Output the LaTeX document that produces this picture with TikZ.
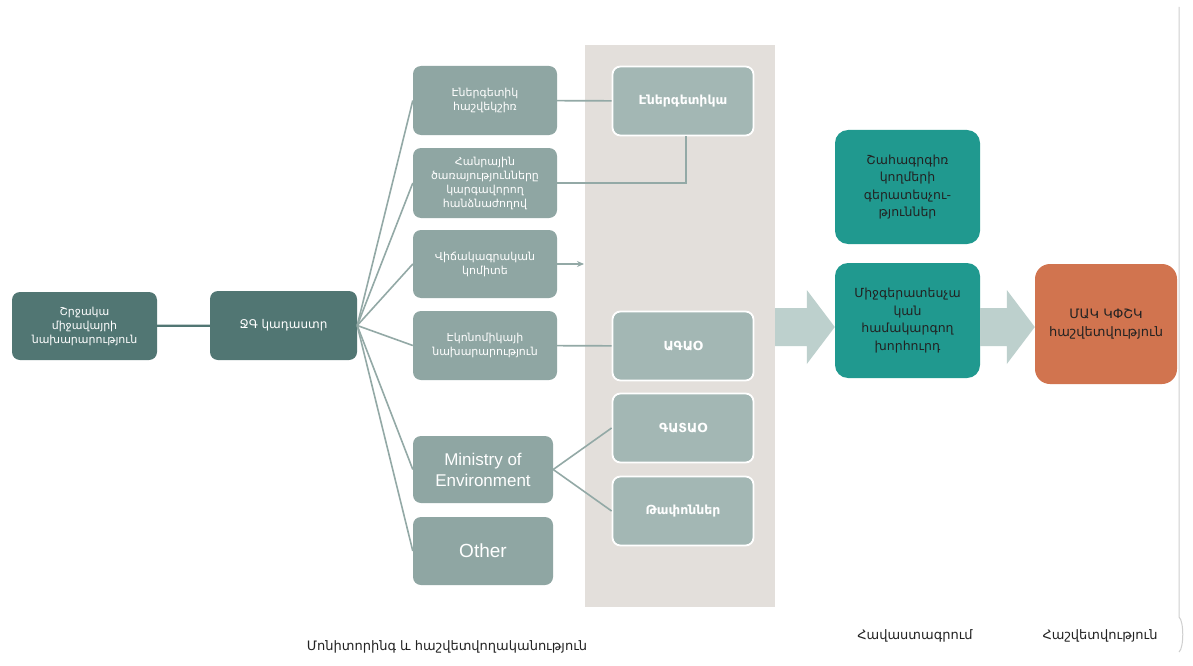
\documentclass[tikz,border=0pt]{standalone}
\usepackage{fontspec}
\setmainfont{DejaVu Sans}
\newfontfamily\latinfont{Liberation Sans}
\usetikzlibrary{calc,arrows.meta}

\definecolor{darkc}{HTML}{517673}
\definecolor{midc}{HTML}{8FA6A3}
\definecolor{lightc}{HTML}{A3B7B4}
\definecolor{panelc}{HTML}{E3DFDB}
\definecolor{flowc}{HTML}{BDD0CD}
\definecolor{tealc}{HTML}{20998F}
\definecolor{orangec}{HTML}{D1744F}
\definecolor{linec}{HTML}{93A9A6}
\definecolor{framec}{HTML}{CFCFCF}
\definecolor{textc}{HTML}{222222}

\tikzset{
  box/.style={rounded corners=8pt, align=center, inner sep=2pt, text=white},
  darkbox/.style={box, fill=darkc, font=\fontsize{11}{14}\selectfont},
  midbox/.style={box, fill=midc, minimum width=144pt, minimum height=69pt, font=\fontsize{11}{14}\selectfont},
  latinbox/.style={box, fill=midc, minimum width=140pt, minimum height=67pt, font=\latinfont\fontsize{17}{21}\selectfont},
  sectorbox/.style={box, fill=lightc, draw=white, line width=1.8pt, minimum width=141pt, minimum height=69pt, font=\bfseries\fontsize{12.5}{15}\selectfont},
  govbox/.style={rounded corners=13pt, align=center, inner sep=2pt, text=textc, font=\fontsize{12.5}{17.5}\selectfont},
  link/.style={draw=linec, line width=1.6pt},
  caption/.style={text=textc, font=\fontsize{13}{15}\selectfont, inner sep=0pt},
}

% block arrow between two points on the same horizontal line
\newcommand{\flowarrow}[2]{%
  \path let \p1=(#1), \p2=(#2) in
    [fill=flowc] (\x1,\y1+19pt) -- (\x2-28pt,\y1+19pt) -- (\x2-28pt,\y1+37pt)
    -- (\x2,\y1) -- (\x2-28pt,\y1-37pt) -- (\x2-28pt,\y1-19pt) -- (\x1,\y1-19pt) -- cycle;}

\begin{document}
\begin{tikzpicture}[x=1pt,y=-1pt]
\useasboundingbox (0,0) rectangle (1193,666);
\fill[white] (0,0) rectangle (1193,666);

% grey band holding the sector inventories
\node[fill=panelc, minimum width=190pt, minimum height=562pt, inner sep=0pt] (panel) at (680,326) {};

% frame line on the right
\draw[framec, line width=1pt] (1179,7) -- (1179,617) .. controls (1184,621) and (1184,648) .. (1179,652);

% institutions
\node[darkbox, minimum width=145pt, minimum height=68pt] (moe) at (84.5,326) {Շրջակա\\միջավայրի\\նախարարություն};
\node[darkbox, minimum width=147pt, minimum height=69pt, font=\fontsize{12}{14}\selectfont] (cad) at (283.5,325.5) {ՋԳ կադաստր};

\node[midbox] (c1) at (485,100.5) {Էներգետիկ\\հաշվեկշիռ};
\node[midbox, minimum height=70pt] (c2) at (485,183) {Հանրային\\ծառայությունները\\կարգավորող\\հանձնաժողով};
\node[midbox, minimum height=68pt] (c3) at (485,264) {Վիճակագրական\\կոմիտե};
\node[midbox] (c4) at (485,345.5) {Էկոնոմիկայի\\նախարարություն};
\node[latinbox] (c5) at (483,469.5) {Ministry of\\Environment};
\node[latinbox, minimum height=68pt, font=\latinfont\fontsize{19}{21}\selectfont] (c6) at (483,551) {Other};

% sectors
\node[sectorbox] (d1) at (683,101) {Էներգետիկա};
\node[sectorbox] (d2) at (683,346) {ԱԳԱՕ};
\node[sectorbox] (d3) at (683,428) {ԳԱՏԱՕ};
\node[sectorbox] (d4) at (683,511) {Թափոններ};

% verification and reporting
\node[govbox, fill=tealc, minimum width=145pt, minimum height=114pt] (e1) at (907.5,187) {Շահագրգիռ\\կողմերի\\գերատեսչու-\\թյուններ};
\node[govbox, fill=tealc, minimum width=145pt, minimum height=115pt] (e2) at (907.5,320.5) {Միջգերատեսչա\\կան\\համակարգող\\խորհուրդ};
\node[govbox, fill=orangec, minimum width=142pt, minimum height=120pt, rounded corners=15pt, font=\fontsize{13}{18}\selectfont] (f) at (1106,324) {ՄԱԿ ԿՓՇԿ\\հաշվետվություն};

% connectors
\draw[darkc, line width=2.2pt] (moe) -- (cad);
\foreach \c in {c1,c2,c3,c4,c5,c6} \draw[link] (cad.east) -- (\c.west);
\draw[link] (c1) -- (d1);
\draw[link] (c2.east) -- ++(129,0) coordinate (elbow) -- (elbow |- d1.south);
\coordinate (c3end) at (584,264);
\draw[link, -{Stealth[length=7pt,width=6pt,fill=darkc]}] (c3.east) -- (c3end);
\draw[link] (c4) -- (d2);
\draw[link] (c5.east) -- (d3.west);
\draw[link] (c5.east) -- (d4.west);

\coordinate (flowy) at (0,327);
\flowarrow{panel.east |- flowy}{e2.west |- flowy}
\flowarrow{e2.east |- flowy}{f.west |- flowy}

% stage captions
\node[caption] (cap1) at (447,647) {Մոնիտորինգ և հաշվետվողականություն};
\node[caption] (cap2) at (915,636) {Հավաստագրում};
\node[caption] (cap3) at (1100,636) {Հաշվետվություն};
\end{tikzpicture}
\end{document}
